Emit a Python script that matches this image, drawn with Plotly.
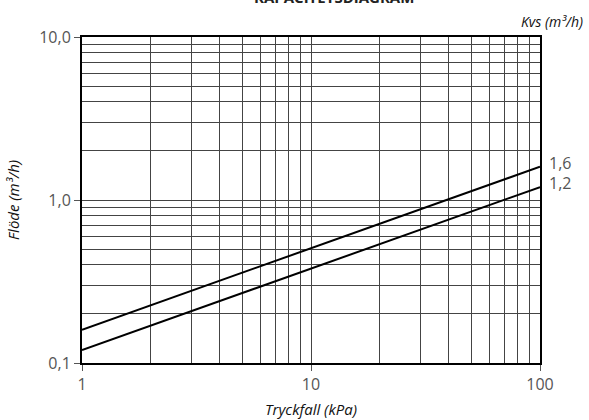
import math
import plotly.graph_objects as go

# Data
pressure_drop_kpa = [1, 100]
flow_kvs_16 = [0.16, 1.6]
flow_kvs_12 = [0.12, 1.2]
kvs_labels = ["1,6", "1,2"]

x_tickvals = [1, 10, 100]
x_ticktext = ["1", "10", "100"]
y_tickvals = [0.1, 1, 10]
y_ticktext = ["0,1", "1,0", "10,0"]

FONT = "Open Sans"
GRID = "#444444"
W, H = 589, 420
L, R, T, B = 82, 49, 37, 57
PW, PH = W - L - R, H - T - B

fig = go.Figure()
for vals in (flow_kvs_16, flow_kvs_12):
    fig.add_trace(go.Scatter(x=pressure_drop_kpa, y=vals, mode="lines",
                             line=dict(color="black", width=2),
                             showlegend=False, hoverinfo="skip"))

# curve labels at the right end of each line (log axes use log10 coords)
for vals, lab in zip((flow_kvs_16, flow_kvs_12), kvs_labels):
    fig.add_annotation(x=math.log10(pressure_drop_kpa[-1]), y=math.log10(vals[-1]),
                       xref="x", yref="y", text=lab, showarrow=False,
                       xanchor="left", yanchor="middle", xshift=7, yshift=4,
                       font=dict(family=FONT, size=16, color="#555555"))

fig.add_annotation(xref="paper", yref="paper", x=(334 - L) / PW, y=1 + (T + 3) / PH,
                   text="<b>KAPACITETSDIAGRAM</b>", showarrow=False,
                   xanchor="center", yanchor="middle",
                   font=dict(family=FONT, size=15, color="#222222"))
fig.add_annotation(xref="paper", yref="paper", x=(585 - L) / PW, y=1 + (T - 21) / PH,
                   text="<i>Kvs (m³/h)</i>", showarrow=False,
                   xanchor="right", yanchor="middle",
                   font=dict(family=FONT, size=14, color="#111111"))

axis_common = dict(
    type="log", showline=True, linecolor="black", linewidth=2, mirror=True,
    showgrid=True, gridcolor=GRID, gridwidth=1, automargin=False,
    ticks="outside", ticklen=6, tickcolor="#555555", tickwidth=1,
    tickfont=dict(family=FONT, size=16, color="#555555"),
    minor=dict(dtick="D1", showgrid=True, gridcolor=GRID, gridwidth=1, ticks=""),
    zeroline=False,
)

fig.update_xaxes(**axis_common, range=[0, 2], tickvals=x_tickvals, ticktext=x_ticktext,
                 title=dict(text="<i>Tryckfall (kPa)</i>", standoff=10,
                            font=dict(family=FONT, size=15, color="#111111")))
fig.update_yaxes(**axis_common, range=[-1, 1], tickvals=y_tickvals, ticktext=y_ticktext,
                 title=dict(text="<i>Flöde (m³/h)</i>", standoff=16,
                            font=dict(family=FONT, size=15, color="#111111")))

fig.update_layout(
    width=W, height=H,
    margin=dict(l=L, r=R, t=T, b=B),
    plot_bgcolor="white", paper_bgcolor="white",
    font=dict(family=FONT),
)

fig.write_html("out.html", config={"displayModeBar": False},
               post_script="document.body.style.margin='0';document.body.style.overflow='hidden';")
